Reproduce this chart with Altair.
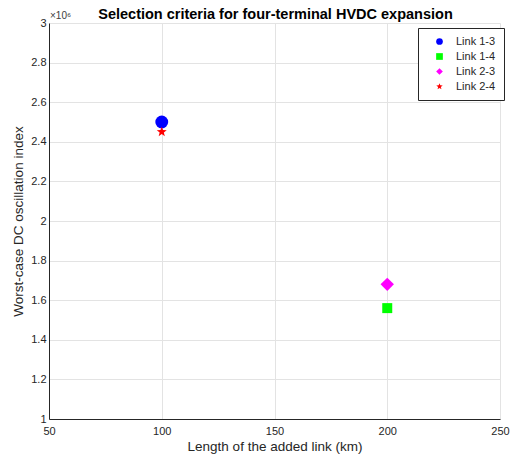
import math
import altair as alt
import pandas as pd

links = ["Link 1-3", "Link 1-4", "Link 2-3", "Link 2-4"]
lengths_km = [100, 200, 200, 100]
osc_index = [2.50e6, 1.56e6, 1.68e6, 2.45e6]
colors = ["#0000ff", "#00ff00", "#ff00ff", "#ff0000"]
x_ticks = [50, 100, 150, 200, 250]
y_ticks = [1.0e6, 1.2e6, 1.4e6, 1.6e6, 1.8e6, 2.0e6, 2.2e6, 2.4e6, 2.6e6, 2.8e6, 3.0e6]
title_text = "Selection criteria for four-terminal HVDC expansion"

# five-point star symbol path (unit coordinates)
pts = []
for i in range(10):
    r = 1.0 if i % 2 == 0 else 0.42
    a = -math.pi / 2 + i * math.pi / 5
    pts.append(f"{r*math.cos(a):.3f},{r*math.sin(a):.3f}")
star = "M" + "L".join(pts) + "Z"

df = pd.DataFrame({"series": links, "length": lengths_km, "index": osc_index})

FONT = "Liberation Sans"
W, H = 451, 396

marker_size = (
    alt.when(alt.datum.series == "Link 1-3").then(alt.value(165))
    .when(alt.datum.series == "Link 1-4").then(alt.value(100))
    .when(alt.datum.series == "Link 2-3").then(alt.value(180))
    .otherwise(alt.value(110))
)

points = alt.Chart(df).mark_point(filled=True, opacity=1, strokeWidth=0).encode(
    x=alt.X("length:Q", scale=alt.Scale(domain=[50, 250], nice=False),
            axis=alt.Axis(values=x_ticks, title="Length of the added link (km)",
                          labelFlush=False, labelPadding=6)),
    y=alt.Y("index:Q", scale=alt.Scale(domain=[1.0e6, 3.0e6], nice=False),
            axis=alt.Axis(values=y_ticks, title="Worst-case DC oscillation index",
                          labelExpr="format(datum.value/1e6, '.1~f')")),
    color=alt.Color("series:N", scale=alt.Scale(domain=links, range=colors),
                    legend=alt.Legend(title=None, orient="none", legendX=369, legendY=5,
                                      strokeColor="#262626", fillColor="white",
                                      padding=8, labelFontSize=11, symbolSize=45,
                                      labelFont=FONT, labelColor="#262626",
                                      rowPadding=3, symbolStrokeWidth=0,
                                      symbolOffset=8, labelOffset=11, cornerRadius=0)),
    shape=alt.Shape("series:N", scale=alt.Scale(domain=links,
                                                 range=["circle", "square", "diamond", star])),
    size=marker_size,
)

exp_label = alt.Chart(pd.DataFrame({"t": ["\u00d710\u2076"]})).mark_text(
    align="left", baseline="bottom", fontSize=10, font=FONT, color="#404040"
).encode(x=alt.value(1), y=alt.value(-2), text="t:N")

title_mark = alt.Chart(pd.DataFrame({"t": [title_text]})).mark_text(
    align="center", baseline="alphabetic", fontSize=14.5, font=FONT, fontWeight="bold",
    color="#000000"
).encode(x=alt.value(W / 2 + 1), y=alt.value(-4), text="t:N")

chart = alt.layer(points, exp_label, title_mark).properties(
    width=W, height=H,
    autosize=alt.AutoSizeParams(type="none"),
    padding={"left": 41, "top": 15, "right": 10, "bottom": 37},
).configure_view(stroke=None).configure_axis(
    labelFont=FONT, titleFont=FONT, labelFontSize=11, titleFontSize=13.5,
    labelColor="#262626", titleColor="#262626", titleFontWeight="normal",
    gridColor="#e3e3e3", domainColor="#262626", ticks=False, labelPadding=3,
).configure_axisX(titlePadding=3).configure_axisY(titlePadding=5)

chart.save("out.html", embed_options={"renderer": "svg", "actions": False})
